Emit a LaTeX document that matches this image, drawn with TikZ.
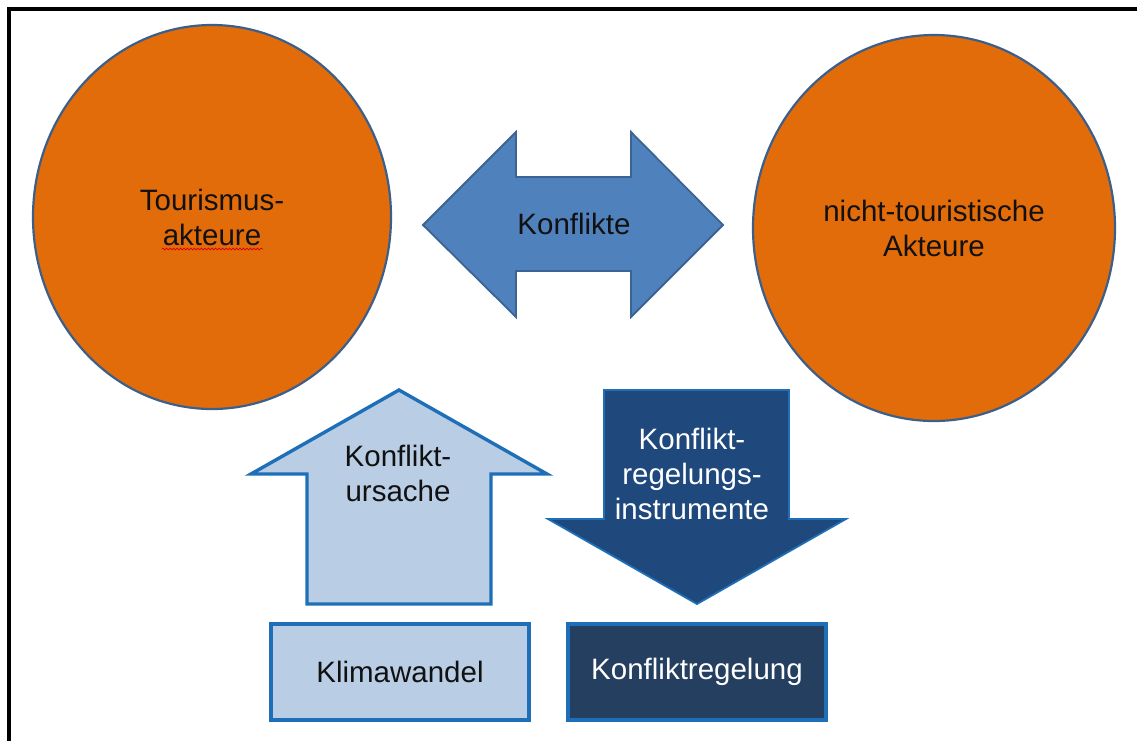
\documentclass[tikz,border=0pt]{standalone}
\usepackage{fontspec}
\setmainfont{Liberation Sans}
\usetikzlibrary{shapes.geometric,decorations.pathmorphing}

\definecolor{actorfill}{HTML}{E36C0A}
\definecolor{actorline}{HTML}{3C5F8A}
\definecolor{midblue}{HTML}{4F81BD}
\definecolor{midline}{HTML}{3B6394}
\definecolor{paleblue}{HTML}{B9CDE5}
\definecolor{edgeblue}{HTML}{1E6FB8}
\definecolor{deepblue}{HTML}{1F487C}
\definecolor{navybox}{HTML}{243F60}
\definecolor{textdark}{HTML}{111111}

\tikzset{
  x=1pt, y=-1pt,
  labeltext/.style={font=\fontsize{29.5}{35}\selectfont, align=center, inner sep=0pt},
  actor/.style={ellipse, draw=actorline, line width=2.2pt, fill=actorfill,
                inner sep=0pt, labeltext, text=textdark},
  lightshape/.style={draw=edgeblue, line width=3.4pt, fill=paleblue, line join=miter},
  darkshape/.style={draw=edgeblue, line width=1.8pt, fill=deepblue, line join=miter},
  navyshape/.style={draw=edgeblue, line width=3.4pt, fill=navybox},
  bothways/.style={draw=midline, line width=1.8pt, fill=midblue, line join=miter},
}

\begin{document}
\begin{tikzpicture}
\useasboundingbox (0,0) rectangle (1137,740);

% outer frame (only left and top edges lie inside the page)
\draw[line width=3.6pt, line cap=rect] (9,740) -- (9,9) -- (1137,9);

% the two groups of actors
\node[actor, minimum width=358pt, minimum height=384pt] (tour) at (212,217)
  {Tourismus-\\akteure};
\node[actor, minimum width=362pt, minimum height=386pt] (other) at (934,228)
  {nicht-touristische\\Akteure};

% spell-check squiggle under "akteure"
\draw[red!85!black, line width=0.7pt,
      decorate, decoration={snake, amplitude=0.9pt, segment length=3.5pt}]
  (162,249) -- (263,249);

% double arrow between the actors
\path[bothways] (423,225) -- (516,132) -- (516,177) -- (631,177) -- (631,132)
  -- (723,225) -- (631,317) -- (631,271) -- (516,271) -- (516,317) -- cycle;
\node[labeltext, text=textdark] (konf) at (574,224) {Konflikte};

% cause: upward arrow
\path[lightshape] (399,390) -- (547,474) -- (491,474) -- (491,604)
  -- (307,604) -- (307,474) -- (251,474) -- cycle;
\node[labeltext, text=textdark] (ursache) at (398,473) {Konflikt-\\ursache};

% instruments: downward arrow
\path[darkshape] (604,390) -- (789,390) -- (789,519) -- (846,519)
  -- (697,604) -- (548,519) -- (604,519) -- cycle;
\node[labeltext, text=white] (instr) at (692,474)
  {Konflikt-\\regelungs-\\instrumente};

% bottom boxes
\node[lightshape, minimum width=258pt, minimum height=96pt, inner sep=0pt,
      labeltext, text=textdark] (klima) at (400,672) {Klimawandel};
\node[navyshape, minimum width=258pt, minimum height=96pt, inner sep=0pt,
      labeltext, text=white] (regelung) at (697,672) {Konfliktregelung};
\end{tikzpicture}
\end{document}
